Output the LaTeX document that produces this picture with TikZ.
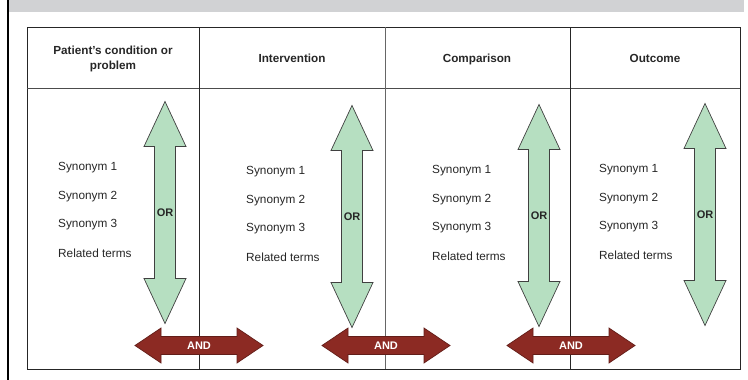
\documentclass[tikz,border=0pt]{standalone}
\usepackage{fontspec}
\setmainfont{Liberation Sans}
\definecolor{bandgray}{HTML}{D1D2D4}
\definecolor{orgreen}{HTML}{B6DFC1}
\definecolor{andred}{HTML}{8C2A23}
\definecolor{txt}{HTML}{262626}
\begin{document}
\begin{tikzpicture}[x=1pt,y=-1pt,
  tabline/.style={draw=black!85,line width=0.8pt},
  head/.style={font=\fontsize{11.7}{15}\selectfont\bfseries,text=txt,align=center,inner sep=0pt},
  syn/.style={font=\fontsize{11.8}{14}\selectfont,text=txt,anchor=west,inner sep=0pt},
  orarrow/.style={fill=orgreen,draw=black!75,line width=0.7pt,line join=miter},
  andarrow/.style={fill=andred,draw=andred!70!black,line width=0.7pt,line join=miter},
  orlab/.style={font=\fontsize{11}{13}\selectfont\bfseries,text=txt,inner sep=0pt},
  andlab/.style={font=\fontsize{11}{13}\selectfont\bfseries,text=white,inner sep=0pt}]
\useasboundingbox (0,0) rectangle (748,380);
% top band and left frame line
\fill[bandgray] (8,0) rectangle (744,12);
\draw[line width=1.3pt] (8,0) -- (8,380);
% table
\draw[tabline] (27,27) rectangle (740,369);
\draw[tabline,draw=black!70] (27,88) -- (740,88);
\draw[tabline] (199,27) -- (199,369);
\draw[tabline,draw=black!60] (385,27) -- (385,369);
\draw[tabline] (570,27) -- (570,369);
% headers
\node[head] (h1) at (113,58.5) {Patient{\char"27}s condition or\\problem};
\node[head,anchor=base] (h2) at (292,62.5) {Intervention};
\node[head,anchor=base] (h3) at (477,62.5) {Comparison};
\node[head,anchor=base] (h4) at (655,62.5) {Outcome};
% synonyms
\foreach \c/\x/\y in {1/58/168,2/246/172,3/432/171,4/599/170}{
  \node[syn] (s\c a) at (\x,\y) {Synonym 1};
  \node[syn] (s\c b) at (\x,\y+28.3) {Synonym 2};
  \node[syn] (s\c c) at (\x,\y+56.6) {Synonym 3};
  \node[syn] (s\c d) at (\x,\y+85) {Related terms};
}
% OR arrows
\foreach \c/\x/\y in {1/165/212.5,2/352/216.5,3/539/215.5,4/705/214.5}{
  \draw[orarrow,shift={(\x,\y)}] (0,-111) -- (21,-66) -- (10.5,-66) -- (10.5,66) -- (21,66)
     -- (0,111) -- (-21,66) -- (-10.5,66) -- (-10.5,-66) -- (-21,-66) -- cycle;
  \node[orlab] (or\c) at (\x,\y) {OR};
}
% AND arrows
\foreach \c/\x in {1/199,2/386,3/571}{
  \draw[andarrow,shift={(\x,345.5)}] (-64,0) -- (-38,-17.5) -- (-38,-9) -- (38,-9) -- (38,-17.5)
     -- (64,0) -- (38,17.5) -- (38,9) -- (-38,9) -- (-38,17.5) -- cycle;
  \node[andlab] (and\c) at (\x,345.5) {AND};
}
\end{tikzpicture}
\end{document}
